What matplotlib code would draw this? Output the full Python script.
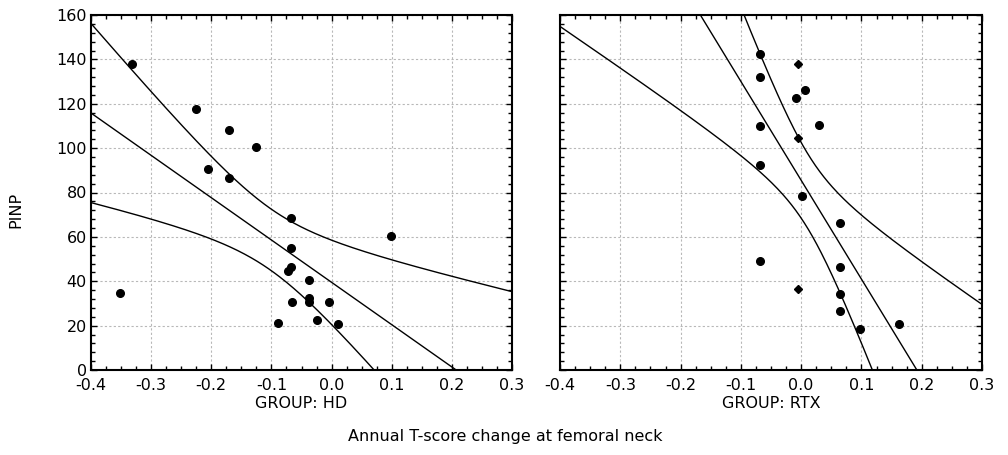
import numpy as np
import matplotlib
matplotlib.use('Agg')
import matplotlib.pyplot as plt
from matplotlib.ticker import MultipleLocator, FormatStrFormatter

plt.rcParams['font.family'] = 'DejaVu Sans'
plt.rcParams['axes.unicode_minus'] = False

# group HD
hd_x = [-0.331, -0.225, -0.171, -0.126, -0.205, -0.171, -0.068, 0.099, -0.068, -0.068,
        -0.072, -0.038, -0.351, -0.038, -0.038, -0.065, -0.004, -0.089, -0.024, 0.010]
hd_y = [137.8, 117.6, 108.3, 100.5, 90.4, 86.4, 68.4, 60.5, 55.1, 46.6,
        44.5, 40.6, 34.6, 32.6, 30.6, 30.6, 30.6, 21.2, 22.5, 20.6]

# group RTX, round markers
rtx_x = [-0.068, -0.068, -0.068, -0.068, -0.068, 0.006, -0.008, 0.029, 0.002,
         0.064, 0.064, 0.064, 0.064, 0.097, 0.162]
rtx_y = [142.3, 132.2, 110.0, 92.4, 49.1, 126.3, 122.4, 110.4, 78.4,
         66.4, 46.3, 34.4, 26.6, 18.5, 20.6]
# group RTX, diamond markers
rtx_dx = [-0.005, -0.005, -0.005]
rtx_dy = [137.8, 104.6, 36.5]

# two sided 95% t values (df = n - 2)
T_HD = 2.101
T_RTX = 2.120

FS = 11.5


def fit_with_band(x, y, t_val, xs):
    x = np.asarray(x)
    y = np.asarray(y)
    n = len(x)
    b, a = np.polyfit(x, y, 1)
    resid = y - (a + b*x)
    s = np.sqrt(np.sum(resid**2)/(n - 2))
    sxx = np.sum((x - x.mean())**2)
    fit = a + b*xs
    half = t_val*s*np.sqrt(1/n + (xs - x.mean())**2/sxx)
    return fit, fit - half, fit + half


def style_axes(ax, show_ylabels):
    ax.set_xlim(-0.4, 0.3)
    ax.set_ylim(0, 160)
    ax.xaxis.set_major_locator(MultipleLocator(0.1))
    ax.xaxis.set_minor_locator(MultipleLocator(0.025))
    ax.yaxis.set_major_locator(MultipleLocator(20))
    ax.yaxis.set_minor_locator(MultipleLocator(4))
    ax.xaxis.set_major_formatter(FormatStrFormatter('%.1f'))
    ax.grid(True, which='major', color='#b8b8b8', linestyle=(0, (2, 2)), linewidth=0.8)
    ax.tick_params(which='both', direction='in', top=True, right=True,
                   labelsize=FS, color='black')
    ax.tick_params(which='major', length=4, width=1)
    ax.tick_params(which='minor', length=3, width=1)
    ax.tick_params(axis='x', pad=6)
    ax.tick_params(axis='y', pad=3)
    if not show_ylabels:
        ax.tick_params(axis='y', labelleft=False)
    for sp in ax.spines.values():
        sp.set_linewidth(1.5)


fig = plt.figure(figsize=(10.08, 4.55), dpi=100)
ax1 = fig.add_axes([91/1008, 1 - 370/455, 421/1008, 355/455])
ax2 = fig.add_axes([560/1008, 1 - 370/455, 422/1008, 355/455])

xs = np.linspace(-0.4, 0.3, 300)

fit, lo, hi = fit_with_band(hd_x, hd_y, T_HD, xs)
for line in (fit, lo, hi):
    ax1.plot(xs, line, color='black', linewidth=1.0)
ax1.plot(hd_x, hd_y, 'o', color='black', markersize=5.5)
style_axes(ax1, True)

all_x = rtx_x + rtx_dx
all_y = rtx_y + rtx_dy
fit, lo, hi = fit_with_band(all_x, all_y, T_RTX, xs)
for line in (fit, lo, hi):
    ax2.plot(xs, line, color='black', linewidth=1.0)
ax2.plot(rtx_x, rtx_y, 'o', color='black', markersize=5.5)
ax2.plot(rtx_dx, rtx_dy, 'D', color='black', markersize=4)
style_axes(ax2, False)

fig.text(301/1008, 1 - 403/455, 'GROUP: HD', ha='center', va='center', fontsize=FS)
fig.text(771/1008, 1 - 403/455, 'GROUP: RTX', ha='center', va='center', fontsize=FS)
fig.text(16/1008, 1 - 210/455, 'PINP', ha='center', va='center', rotation=90, fontsize=FS)
fig.text(505/1008, 1 - 437/455, 'Annual T-score change at femoral neck',
         ha='center', va='center', fontsize=FS)

fig.savefig('out.png', dpi=100)
